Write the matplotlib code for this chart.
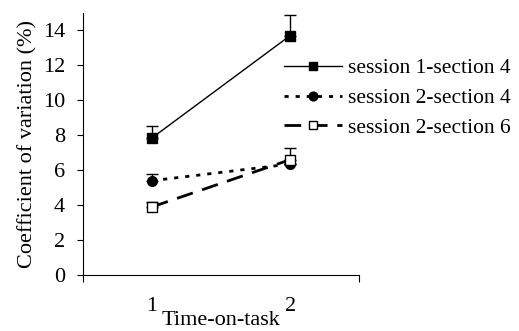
import numpy as np
import matplotlib
matplotlib.use("Agg")
import matplotlib.pyplot as plt

plt.rcParams['font.family'] = ['Liberation Serif', 'DejaVu Serif']

x = [1, 2]
s1 = [7.85, 13.7]
s1_err = [0.7, 1.2]
s2 = [5.4, 6.35]
s2_err = [0.4, 0.0]
s3 = [3.9, 6.6]
s3_err = [0.3, 0.65]
labels = ['session 1-section 4', 'session 2-section 4', 'session 2-section 6']

fig = plt.figure(figsize=(5.19, 3.31), dpi=100)
ax = fig.add_axes([0.16, 0.169, 0.532, 0.792])

ax.errorbar(x, s1, yerr=[[0, 0], s1_err], color='black', lw=1.0, marker='s',
            ms=7, mfc='black', mec='black', capsize=4, elinewidth=1, capthick=1,
            label=labels[0])
ax.errorbar(x, s2, yerr=[[0, 0], s2_err], color='black', lw=2.0, ls=(0, (1.5, 2.5)),
            marker='o', ms=7, mfc='black', mec='black', capsize=4, elinewidth=1,
            capthick=1, label=labels[1])
ax.errorbar(x, s3, yerr=[[0, 0], s3_err], color='black', lw=2.0, ls=(0, (6, 3.5)),
            marker='s', ms=7, mfc='white', mec='black', mew=1, capsize=4,
            elinewidth=1, capthick=1, label=labels[2])

ax.set_xlim(0.5, 2.5)
ax.set_ylim(0, 15)
ax.set_yticks(np.arange(0, 15, 2))
ax.set_xticks([0.5, 2.5])
ax.set_xticklabels([])
ax.set_xticks([1, 2], minor=True)
ax.set_xticklabels(['1', '2'], minor=True)
ax.tick_params(axis='x', which='minor', length=0, pad=16)
ax.tick_params(axis='x', which='major', length=5, direction='out')
ax.tick_params(axis='y', length=4.5, direction='out', pad=8.5)
ax.tick_params(which='both', labelsize=16)
ax.spines['top'].set_visible(False)
ax.spines['right'].set_visible(False)
ax.set_xlabel('Time-on-task', fontsize=16, labelpad=-3.5)
ax.set_ylabel('Coefficient of variation (%)', fontsize=16, labelpad=4)

handles, lbls = ax.get_legend_handles_labels()
handles = [h[0] for h in handles]
fig.legend(handles, lbls, loc='upper left', bbox_to_anchor=(0.53, 0.85),
           frameon=False, fontsize=15.5, handlelength=2.7, handletextpad=0.3,
           labelspacing=0.45, borderaxespad=0, markerscale=0.9)

fig.savefig('out.png', dpi=100)
